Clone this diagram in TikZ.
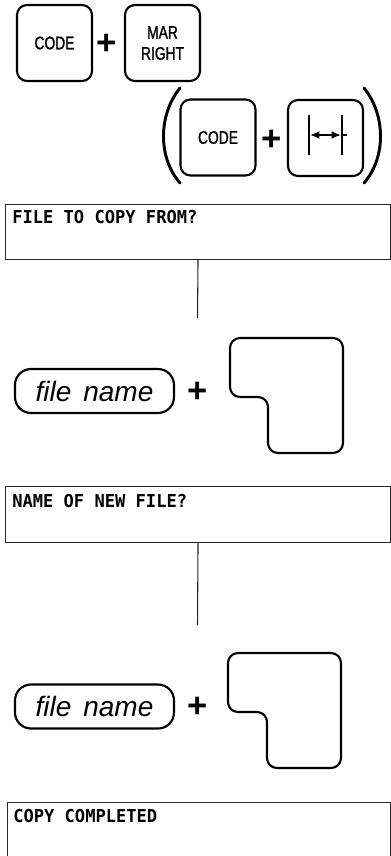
\documentclass[tikz,border=0pt]{standalone}
\usepackage{fontspec}
\setmainfont{Liberation Sans}
\newfontfamily\keyfont[FakeStretch=0.76,FakeBold=1.2]{Liberation Sans}
\newfontfamily\lcdfont[FakeStretch=0.96]{DejaVu Sans Mono Bold}
\newfontfamily\plusfont{Liberation Sans}
\usetikzlibrary{arrows.meta,calc}
\begin{document}
\begin{tikzpicture}[x=0.75pt,y=-0.75pt,
  keybox/.style={draw=black,line width=1.6pt,rounded corners=7.5pt,
    minimum width=75*0.75pt,minimum height=76*0.75pt,inner sep=0pt,
    font=\keyfont\fontsize{13.65}{15.75}\selectfont,align=center},
  pill/.style={draw=black,line width=1.6pt,rounded corners=12pt,
    minimum width=159*0.75pt,minimum height=44*0.75pt,inner sep=0pt,
    font=\itshape\fontsize{21}{21}\selectfont},
  plussign/.style={inner sep=0pt,font=\plusfont\bfseries\fontsize{26}{26}\selectfont},
  dispbox/.style={draw=black!85,line width=0.8pt,inner sep=0pt,anchor=north west},
  lcd/.style={inner sep=0pt,anchor=base west,font=\lcdfont\fontsize{13.35}{13.35}\selectfont},
  lshape/.style={draw=black,line width=1.6pt,rounded corners=7.5pt},
  link/.style={draw=black!85,line width=0.8pt},
  paren/.style={draw=black,line width=2.2pt,line cap=round}
]
\clip (0,0) rectangle (391,856);
\fill[white] (0,0) rectangle (391,856);

% top keys
\node[keybox] (k1) at (54.5,43) {CODE};
\node[plussign] (p1) at (106.5,44) {+};
\node[keybox] (k2) at (162.5,43) {MAR\\RIGHT};

% second row keys in parentheses
\node[keybox] (k3) at (218,137.5) {CODE};
\node[plussign] (p2) at (272,140) {+};
\node[keybox] (k4) at (325.5,138) {};
\draw[paren] (180,88) .. controls (158,115) and (158,158) .. (180,183);
\draw[paren] (364,88) .. controls (386,115) and (386,158) .. (364,183);
% margin icon
\draw[line width=1.8pt] (309,115) -- (309,155);
\draw[line width=1.8pt] (342,115) -- (342,155);
\draw[line width=1.6pt,{Latex[length=7pt,width=6pt]}-{Latex[length=7pt,width=6pt]}] (310,135) -- (341,135);
\draw[line width=1.8pt] (342,135) -- (347,135);

% display 1
\node[dispbox,minimum width=385*0.75pt,minimum height=55*0.75pt] (d1) at (5,204) {};
\node[lcd] (t1) at (12,223) {FILE TO COPY FROM?};
\coordinate (c1) at (197.5,318);
\draw[link] (d1.south) -- (c1);

% row 1 file name
\node[pill] (f1) at (94.5,391) {file\hspace{0.15em} name};
\node[plussign] (p3) at (197.5,392) {+};
\draw[lshape] (230,338) -- (343,338) -- (343,453) -- (268,453) -- (268,397) -- (230,397) -- cycle;

% display 2
\node[dispbox,minimum width=385*0.75pt,minimum height=56*0.75pt] (d2) at (5,486) {};
\node[lcd] (t2) at (12,507) {NAME OF NEW FILE?};
\coordinate (c2) at (197.5,625);
\draw[link] (d2.south) -- (c2);

% row 2 file name
\node[pill] (f2) at (94.5,706.5) {file\hspace{0.15em} name};
\node[plussign] (p4) at (197.5,707) {+};
\draw[lshape] (228,653) -- (341,653) -- (341,768) -- (267,768) -- (267,712) -- (228,712) -- cycle;

% display 3
\node[dispbox,minimum width=383*0.75pt,minimum height=80*0.75pt] (d3) at (7,802) {};
\node[lcd] (t3) at (13,822) {COPY COMPLETED};
\end{tikzpicture}
\end{document}
